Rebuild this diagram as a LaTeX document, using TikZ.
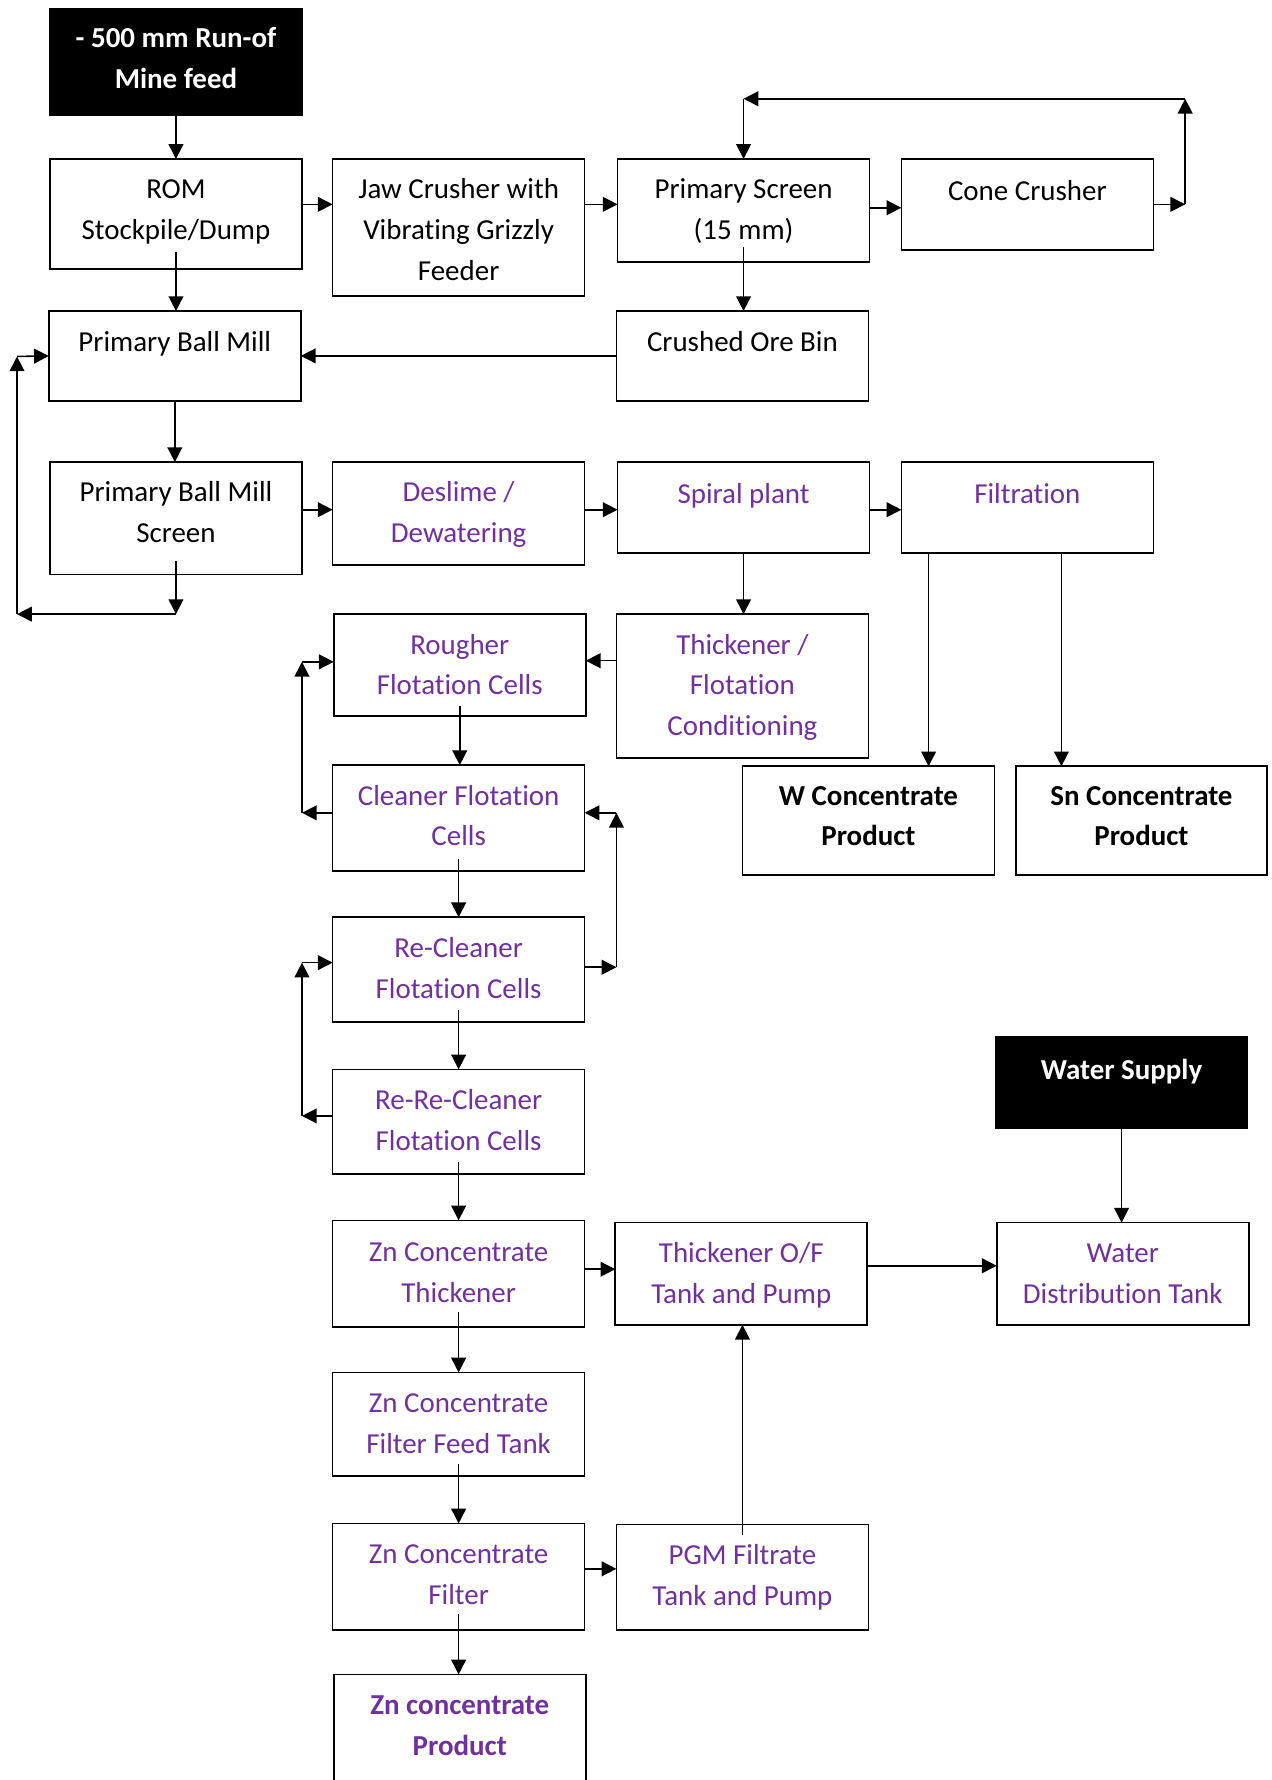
\documentclass[tikz,border=0pt]{standalone}
\usepackage{fontspec}
\setmainfont{Carlito}[Ligatures=NoCommon]
\usetikzlibrary{arrows.meta,calc}
\definecolor{wpurple}{RGB}{112,48,160}
\begin{document}
\begin{tikzpicture}[x=1pt,y=-1pt,
  box/.style={draw, line width=1.5pt, minimum width=222pt, anchor=north west, inner sep=0pt, outer sep=0pt},
  blk/.style={box, fill=black},
  txt/.style={inner sep=0pt, align=center, anchor=north, font=\fontsize{25.5}{36}\selectfont},
  ptx/.style={txt, text=wpurple},
  btx/.style={txt, font=\fontsize{25.5}{36}\selectfont\bfseries},
  wtx/.style={btx, text=white},
  bptx/.style={btx, text=wpurple},
  arr/.style={-{Triangle[length=13pt,width=13pt]}, line width=1.4pt}]
\useasboundingbox (0,0) rectangle (1120,1568);

% boxes
\node[blk, minimum height=93pt] (feed) at (44,8) {};
\node[box, minimum height=97pt] (rom) at (44,140) {};
\node[box, minimum height=121pt] (jaw) at (293,140) {};
\node[box, minimum height=91pt] (pscr) at (544,140) {};
\node[box, minimum height=80pt] (cone) at (794,140) {};
\node[box, minimum height=79pt] (pbm) at (43,274) {};
\node[box, minimum height=79pt] (cob) at (543,274) {};
\node[box, minimum height=99pt] (pbms) at (44,407) {};
\node[box, minimum height=91pt] (desl) at (293,407) {};
\node[box, minimum height=80pt] (spir) at (544,407) {};
\node[box, minimum height=80pt] (filt) at (794,407) {};
\node[box, minimum height=90pt] (roug) at (294,541) {};
\node[box, minimum height=127pt] (thk) at (543,541) {};
\node[box, minimum height=96pt] (wcon) at (654,675) {};
\node[box, minimum height=96pt, minimum width=221pt] (sncon) at (895,675) {};
\node[box, minimum height=93pt] (clean) at (293,674) {};
\node[box, minimum height=92pt] (reclean) at (293,808) {};
\node[box, minimum height=92pt] (rereclean) at (293,942) {};
\node[blk, minimum height=81pt] (wsup) at (877,913) {};
\node[box, minimum height=94pt] (znth) at (293,1075) {};
\node[box, minimum height=90pt] (thof) at (542,1077) {};
\node[box, minimum height=90pt] (wdt) at (878,1077) {};
\node[box, minimum height=91pt] (znfft) at (293,1209) {};
\node[box, minimum height=94pt] (znf) at (293,1342) {};
\node[box, minimum height=93pt] (pgm) at (543,1343) {};
\node[box, minimum height=120pt] (znp) at (294,1475) {};

% texts
\node[wtx] (feed-t) at ([yshift=-8.8pt]feed.north) {\strut - 500 mm Run-of\\Mine feed};
\node[txt] (rom-t) at ([yshift=-9.8pt]rom.north) {\strut ROM\\Stockpile/Dump};
\node[txt] (jaw-t) at ([yshift=-9.8pt]jaw.north) {\strut Jaw Crusher with\\Vibrating Grizzly\\Feeder};
\node[txt] (pscr-t) at ([yshift=-9.8pt]pscr.north) {\strut Primary Screen\\(15 mm)};
\node[txt] (cone-t) at ([yshift=-10.8pt]cone.north) {\strut Cone Crusher};
\node[txt] (pbm-t) at ([yshift=-9.8pt]pbm.north) {\strut Primary Ball Mill};
\node[txt] (cob-t) at ([yshift=-9.8pt]cob.north) {\strut Crushed Ore Bin};
\node[txt] (pbms-t) at ([yshift=-9.8pt]pbms.north) {\strut Primary Ball Mill\\Screen};
\node[ptx] (desl-t) at ([yshift=-9.8pt]desl.north) {\strut Deslime /\\Dewatering};
\node[ptx] (spir-t) at ([yshift=-10.8pt]spir.north) {\strut Spiral plant};
\node[ptx] (filt-t) at ([yshift=-10.8pt]filt.north) {\strut Filtration};
\node[ptx] (roug-t) at ([yshift=-9.8pt]roug.north) {\strut Rougher\\Flotation Cells};
\node[ptx] (thk-t) at ([yshift=-9.8pt]thk.north) {\strut Thickener /\\Flotation\\Conditioning};
\node[btx] (wcon-t) at ([yshift=-8.8pt]wcon.north) {\strut W Concentrate\\Product};
\node[btx] (sncon-t) at ([yshift=-8.8pt]sncon.north) {\strut Sn Concentrate\\Product};
\node[ptx] (clean-t) at ([yshift=-9.8pt]clean.north) {\strut Cleaner Flotation\\Cells};
\node[ptx] (reclean-t) at ([yshift=-9.8pt]reclean.north) {\strut Re-Cleaner\\Flotation Cells};
\node[ptx] (rereclean-t) at ([yshift=-9.8pt]rereclean.north) {\strut Re-Re-Cleaner\\Flotation Cells};
\node[wtx] (wsup-t) at ([yshift=-12.8pt]wsup.north) {\strut Water Supply};
\node[ptx] (znth-t) at ([yshift=-10.8pt]znth.north) {\strut Zn Concentrate\\Thickener};
\node[ptx] (thof-t) at ([yshift=-9.8pt]thof.north) {\strut Thickener O/F\\Tank and Pump};
\node[ptx] (wdt-t) at ([yshift=-9.8pt]wdt.north) {\strut Water\\Distribution Tank};
\node[ptx] (znfft-t) at ([yshift=-9.8pt]znfft.north) {\strut Zn Concentrate\\Filter Feed Tank};
\node[ptx] (znf-t) at ([yshift=-9.8pt]znf.north) {\strut Zn Concentrate\\Filter};
\node[ptx] (pgm-t) at ([yshift=-9.8pt]pgm.north) {\strut PGM Filtrate\\Tank and Pump};
\node[bptx] (znp-t) at ([yshift=-9.8pt]znp.north) {\strut Zn concentrate\\Product};

% helper coordinates
\coordinate (c1) at (1044,180);
\coordinate (c2) at (1044,87);
\coordinate (c3) at (655,87);
\coordinate (l1) at (155,541);
\coordinate (l2) at (15,541);
\coordinate (l3) at (15,314);
\coordinate (k1) at (266,716);
\coordinate (k2) at (266,583);
\coordinate (r1) at (543,852);
\coordinate (r2) at (543,716);
\coordinate (q1) at (266,983);
\coordinate (q2) at (266,848);
\coordinate (f1) at ([xshift=24pt]filt.south west);
\coordinate (f2) at ([xshift=141pt]filt.south west);
\coordinate (p1) at ([yshift=-9pt]pgm.north);
\coordinate (a1) at ([yshift=15pt]rom.south);
\coordinate (a2) at ([yshift=13pt]pscr.south);
\coordinate (a3) at (pbm.south);
\coordinate (a4) at (spir.south);
\coordinate (a5) at ([yshift=9pt]roug.south);
\coordinate (a6) at (wsup.south);
\coordinate (a7) at ([yshift=14pt]znf.south);

% connectors
\draw[arr] (feed.south) -- (rom.north);
\draw[arr] ([yshift=-40pt]rom.north east) -- ([yshift=-40pt]jaw.north west);
\draw[arr] ([yshift=-40pt]jaw.north east) -- ([yshift=-40pt]pscr.north west);
\draw[arr] ([yshift=-43pt]pscr.north east) -- ([yshift=-43pt]cone.north west);
\draw[arr] ([yshift=-40pt]cone.north east) -- (c1);
\draw[arr] (c1) -- (c2);
\draw[arr] (c2) -- (c3);
\draw[arr] (c3) -- (pscr.north);
\draw[arr] (a1) -- (a1 |- pbm.north);
\draw[arr] (a2) -- (a2 |- cob.north);
\draw[arr] (cob.west) -- (pbm.east);
\draw[arr] (a3) -- (a3 |- pbms.north);
\draw[arr] ([yshift=12pt]pbms.south) -- (l1);
\draw[arr] (l1) -- (l2);
\draw[arr] (l2) -- (l3);
\draw[arr] (l3) -- (pbm.west);
\draw[arr] ([yshift=-42pt]pbms.north east) -- ([yshift=-42pt]desl.north west);
\draw[arr] ([yshift=-42pt]desl.north east) -- ([yshift=-42pt]spir.north west);
\draw[arr] ([yshift=-42pt]spir.north east) -- ([yshift=-42pt]filt.north west);
\draw[arr] (a4) -- (a4 |- thk.north);
\draw[arr] (f1) -- (f1 |- wcon.north);
\draw[arr] (f2) -- (f2 |- sncon.north);
\draw[arr] ([yshift=-41pt]thk.north west) -- ([yshift=-41pt]roug.north east);
\draw[arr] (a5) -- (a5 |- clean.north);
\draw[arr] ([yshift=-42pt]clean.north west) -- (k1);
\draw[arr] (k1) -- (k2);
\draw[arr] (k2) -- ([yshift=-42pt]roug.north west);
\draw[arr] ([yshift=10pt]clean.south) -- (reclean.north);
\draw[arr] ([yshift=-44pt]reclean.north east) -- (r1);
\draw[arr] (r1) -- (r2);
\draw[arr] (r2) -- ([yshift=-42pt]clean.north east);
\draw[arr] ([yshift=10pt]reclean.south) -- (rereclean.north);
\draw[arr] ([yshift=-41pt]rereclean.north west) -- (q1);
\draw[arr] (q1) -- (q2);
\draw[arr] (q2) -- ([yshift=-40pt]reclean.north west);
\draw[arr] ([yshift=10pt]rereclean.south) -- (znth.north);
\draw[arr] ([yshift=-43pt]znth.north east) -- ([yshift=-41pt]thof.north west);
\draw[arr] ([yshift=-38pt]thof.north east) -- ([yshift=-38pt]wdt.north west);
\draw[arr] (a6) -- (a6 |- wdt.north);
\draw[arr] ([yshift=13pt]znth.south) -- (znfft.north);
\draw[arr] ([yshift=10pt]znfft.south) -- (znf.north);
\draw[arr] ([yshift=-40pt]znf.north east) -- ([yshift=-39pt]pgm.north west);
\draw[arr] (p1) -- (p1 |- thof.south);
\draw[arr] (a7) -- (a7 |- znp.north);
\end{tikzpicture}
\end{document}
